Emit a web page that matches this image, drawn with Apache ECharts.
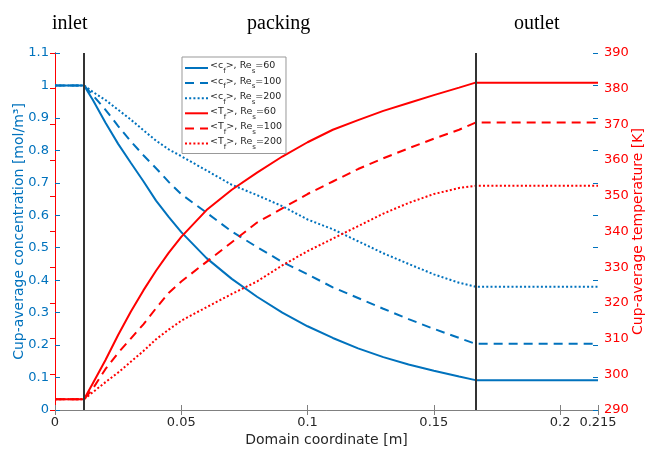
<!DOCTYPE html>
<html>
<head>
<meta charset="utf-8">
<script src="https://cdn.jsdelivr.net/npm/echarts@6/dist/echarts.min.js"></script>
<style>
  html, body { margin: 0; padding: 0; background: #fff; }
  #chart { width: 647px; height: 451px; }
</style>
</head>
<body>
<div id="chart"></div>
<script>
// Axial position along the reactor [m]
const xs = [0, 0.0115, 0.015, 0.02, 0.025, 0.03, 0.035, 0.04, 0.045, 0.05, 0.06, 0.07, 0.08,
            0.09, 0.1, 0.11, 0.12, 0.13, 0.14, 0.15, 0.16, 0.1665, 0.215];

// Cup-average concentration [mol/m^3]
const conc60  = [1, 1, 0.955, 0.885, 0.82, 0.762, 0.705, 0.645, 0.595, 0.548, 0.468, 0.404, 0.349,
                 0.300, 0.258, 0.222, 0.19, 0.163, 0.14, 0.121, 0.103, 0.092, 0.092];
const conc100 = [1, 1, 0.97, 0.925, 0.875, 0.828, 0.785, 0.745, 0.703, 0.665, 0.608, 0.55, 0.502,
                 0.456, 0.418, 0.378, 0.345, 0.312, 0.28, 0.25, 0.222, 0.204, 0.204];
const conc200 = [1, 1, 0.98, 0.955, 0.925, 0.895, 0.862, 0.83, 0.803, 0.782, 0.738, 0.694, 0.662,
                 0.628, 0.587, 0.557, 0.52, 0.483, 0.45, 0.418, 0.392, 0.38, 0.38];

// Cup-average temperature [K]
const temp60  = [293, 293, 297.5, 304, 311, 317.5, 323.5, 329, 334, 338.5, 346, 351.7, 356.5,
                 361, 365, 368.5, 371.2, 373.8, 376, 378.2, 380.3, 381.7, 381.7];
const temp100 = [293, 293, 296, 301.5, 306, 310, 314, 318.5, 322.8, 326, 331.5, 337, 342.5,
                 346.5, 350.5, 354, 357.5, 360.5, 363.3, 366, 368.5, 370.5, 370.5];
const temp200 = [293, 293, 295, 297.8, 300.5, 303.5, 306.5, 309.8, 312.5, 315, 318.8, 322.5, 326,
                 330.5, 334.5, 338, 341.5, 345, 348, 350.5, 352.2, 352.8, 352.8];

// Section boundaries: inlet | packing | outlet
const boundaries = [0.0115, 0.1665];
const sectionNames = ['inlet', 'packing', 'outlet'];
const xTicks = [0, 0.05, 0.1, 0.15, 0.2, 0.215];

const BLUE = '#0072BD';
const RED = '#FF0000';
const AXIS_GREY = '#808080';
const TEXT_DARK = '#262626';

const pairs = (ys) => xs.map((x, i) => [x, ys[i]]);

const chart = echarts.init(document.getElementById('chart'), null, { renderer: 'canvas' });

function lineSeries(name, ys, color, type, yIdx) {
  return {
    name: name,
    type: 'line',
    yAxisIndex: yIdx,
    data: pairs(ys),
    symbol: 'none',
    smooth: false,
    lineStyle: { color: color, width: 2, type: type },
    itemStyle: { color: color },
    z: 3
  };
}

const dashed = [9, 6];
const dotted = [2, 2.2];

const series = [
  lineSeries('c60', conc60, BLUE, 'solid', 0),
  lineSeries('c100', conc100, BLUE, dashed, 0),
  lineSeries('c200', conc200, BLUE, dotted, 0),
  lineSeries('T60', temp60, RED, 'solid', 1),
  lineSeries('T100', temp100, RED, dashed, 1),
  lineSeries('T200', temp200, RED, dotted, 1)
];

// section boundary lines
series[0].markLine = {
  silent: true,
  symbol: 'none',
  precision: 6,
  label: { show: false },
  lineStyle: { color: '#333', width: 2, type: 'solid' },
  data: boundaries.map(b => ({ xAxis: b }))
};

const legendText = {
  c60:  '{n|<c}{sub|f}{n|>, Re}{sub|s}{n|=60}',
  c100: '{n|<c}{sub|f}{n|>, Re}{sub|s}{n|=100}',
  c200: '{n|<c}{sub|f}{n|>, Re}{sub|s}{n|=200}',
  T60:  '{n|<T}{sub|f}{n|>, Re}{sub|s}{n|=60}',
  T100: '{n|<T}{sub|f}{n|>, Re}{sub|s}{n|=100}',
  T200: '{n|<T}{sub|f}{n|>, Re}{sub|s}{n|=200}'
};

const option = {
  animation: false,
  backgroundColor: '#fff',
  textStyle: { fontFamily: 'DejaVu Sans' },
  grid: { left: 55, right: 49, top: 53, bottom: 41, containLabel: false, outerBoundsMode: 'none' },
  legend: {
    orient: 'vertical',
    left: 182,
    top: 57,
    padding: [4, 4, 3, 2],
    itemWidth: 23,
    itemHeight: 13,
    itemGap: 1.1,
    backgroundColor: '#fff',
    borderColor: '#999',
    borderWidth: 1,
    borderRadius: 0,
    itemStyle: { opacity: 0 },
    data: ['c60', 'c100', 'c200', 'T60', 'T100', 'T200'],
    formatter: (name) => legendText[name],
    textStyle: {
      fontFamily: 'DejaVu Sans',
      fontSize: 9.5,
      color: TEXT_DARK,
      padding: [0, 0, 0, -3],
      rich: {
        n: { fontSize: 9.5, fontFamily: 'DejaVu Sans', color: TEXT_DARK, lineHeight: 14, verticalAlign: 'top' },
        sub: { fontSize: 7, fontFamily: 'DejaVu Sans', color: TEXT_DARK, lineHeight: 8, verticalAlign: 'bottom' }
      }
    }
  },
  graphic: sectionNames.map((t, i) => ({
    type: 'text',
    left: [52, 247, 514][i],
    top: 14,
    style: { text: t, font: '20px "Liberation Serif"', fill: '#000' }
  })),
  xAxis: [
    {
      type: 'value',
      position: 'bottom',
      min: 0,
      max: 0.215,
      name: 'Domain coordinate [m]',
      nameLocation: 'middle',
      nameGap: 23,
      nameMoveOverlap: false,
      nameTextStyle: { fontSize: 14, color: TEXT_DARK, fontFamily: 'DejaVu Sans' },
      axisLine: { lineStyle: { color: AXIS_GREY, width: 1 } },
      axisTick: { inside: true, length: 5, lineStyle: { color: AXIS_GREY }, customValues: xTicks },
      axisLabel: { fontSize: 13, color: TEXT_DARK, margin: 6, customValues: xTicks },
      splitLine: { show: false }
    },
    {
      type: 'value',
      position: 'top',
      min: 0,
      max: 0.215,
      axisLine: { lineStyle: { color: AXIS_GREY, width: 1 } },
      axisTick: { inside: true, length: 5, lineStyle: { color: AXIS_GREY }, customValues: xTicks },
      axisLabel: { show: false },
      splitLine: { show: false }
    }
  ],
  yAxis: [
    {
      type: 'value',
      position: 'left',
      min: 0,
      max: 1.1,
      interval: 0.1,
      name: 'Cup-average concentration [mol/m\u00B3]',
      nameLocation: 'middle',
      nameRotate: 90,
      nameGap: 29,
      nameMoveOverlap: false,
      nameTextStyle: { fontSize: 14, color: BLUE, fontFamily: 'DejaVu Sans' },
      axisLine: { show: true, lineStyle: { color: BLUE, width: 1 } },
      axisTick: { show: true, inside: true, length: 5, lineStyle: { color: BLUE } },
      axisLabel: { fontSize: 13, color: BLUE, margin: 6 },
      splitLine: { show: false }
    },
    {
      type: 'value',
      position: 'right',
      min: 290,
      max: 390,
      interval: 10,
      name: 'Cup-average temperature [K]',
      nameLocation: 'middle',
      nameRotate: 90,
      nameGap: 33,
      nameMoveOverlap: false,
      nameTextStyle: { fontSize: 14, color: RED, fontFamily: 'DejaVu Sans' },
      axisLine: { show: true, lineStyle: { color: RED, width: 1 } },
      axisTick: { show: true, inside: true, length: 5, lineStyle: { color: RED } },
      axisLabel: { fontSize: 13, color: RED, margin: 6 },
      splitLine: { show: false }
    },
    {
      // concentration ticks mirrored on the right border
      type: 'value',
      position: 'right',
      min: 0,
      max: 1.1,
      interval: 0.1,
      axisLine: { show: false },
      axisTick: { show: true, inside: true, length: 5, lineStyle: { color: BLUE } },
      axisLabel: { show: false },
      splitLine: { show: false }
    }
  ],
  series: series
};

chart.setOption(option);
</script>
</body>
</html>
